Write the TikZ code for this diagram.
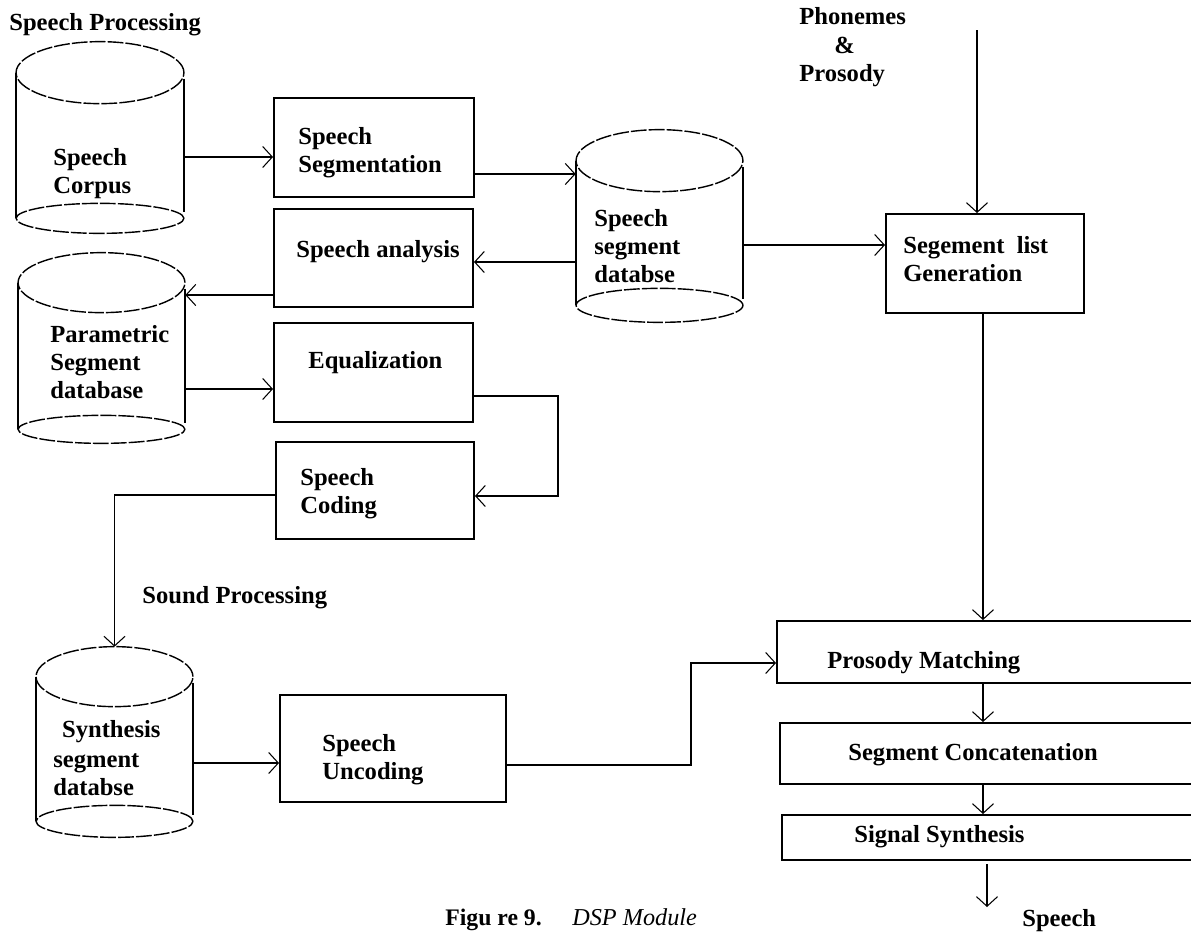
\documentclass[tikz,border=0pt]{standalone}
\usepackage{fontspec}
\setmainfont{Liberation Serif}
\usetikzlibrary{arrows.meta,calc,fit}

\tikzset{
  box/.style={draw, line width=1.1pt, inner sep=0pt},
  rim/.style={line width=0.8pt, dash pattern=on 9pt off 1.2pt},
  side/.style={line width=1pt},
  lbl/.style={inner sep=0pt, anchor=base west, font=\fontsize{14}{16}\selectfont\bfseries},
  arr/.style={line width=0.9pt, -{Straight Barb[length=5.5pt, width=12pt, line width=0.6pt]}},
}
% left-aligned multi-line label whose baseline is the first line
\newcommand\stack[1]{\begin{tabular}[t]{@{}l@{}}#1\end{tabular}}
% database cylinder: name, left, right, top, bottom, top rim radius, bottom rim radius
\newcommand\database[7]{%
  \node[inner sep=0pt, fit={(#2,#4) (#3,#5)}] (#1) {};
  \pgfmathsetmacro\dbrx{(#3-#2)*0.01}%
  \pgfmathsetmacro\dbryt{#6*0.02}%
  \pgfmathsetmacro\dbryb{#7*0.02}%
  \draw[rim] ($(#1.north)+(0,#6)$) ellipse [x radius=\dbrx cm, y radius=\dbryt cm];
  \draw[rim] ($(#1.south)+(0,-#7)$) ellipse [x radius=\dbrx cm, y radius=\dbryb cm];
  \draw[side] ($(#1.north west)+(0,#6)$) -- ($(#1.south west)+(0,-#7)$);
  \draw[side] ($(#1.north east)+(0,#6+6)$) -- ($(#1.south east)+(0,-#7-6)$);
}

\begin{document}
\begin{tikzpicture}[x=0.02cm, y=-0.02cm]
  \fill[white] (0,0) rectangle (1191,933);
  \useasboundingbox (0,0) rectangle (1191,933);
  \clip (0,0) rectangle (1191,933);

  % databases
  \database{corpus}{16}{184}{42}{233}{31}{15}
  \database{segdb}{576}{743}{130}{322}{31}{17}
  \database{param}{18}{185}{253}{443}{30}{14}
  \database{synth}{36}{193}{647}{837}{30}{16}

  % processing boxes
  \node[box, fit={(274,98) (474,197)}] (seg) {};
  \node[box, fit={(274,209) (473,307)}] (ana) {};
  \node[box, fit={(274,323) (473,422)}] (eq) {};
  \node[box, fit={(276,442) (474,539)}] (cod) {};
  \node[box, fit={(280,695) (506,802)}] (unc) {};
  \node[box, fit={(886,214) (1084,313)}] (gen) {};
  \node[box, fit={(777,621) (1210,683)}] (pm) {};
  \node[box, fit={(780,723) (1210,784)}] (cat) {};
  \node[box, fit={(782,815) (1210,860)}] (sig) {};

  % labels
  \node[lbl] (tProc) at (9,31) {Speech Processing};
  \node[lbl] (tCorpus) at (53,165) {\stack{Speech\\Corpus}};
  \node[lbl] (tSeg) at (298,144) {\stack{Speech\\Segmentation}};
  \node[lbl] (tAna) at (296,257) {Speech analysis};
  \node[lbl] (tSegdb) at (594,226) {\stack{Speech\\segment\\databse}};
  \node[lbl] (tParam) at (50,342) {\stack{Parametric\\Segment\\database}};
  \node[lbl] (tEq) at (308,368) {Equalization};
  \node[lbl] (tCod) at (300,485) {\stack{Speech\\Coding}};
  \node[lbl] (tSound) at (142,603) {Sound Processing};
  \node[lbl] (tSyn) at (53,737) {\stack{\hspace*{5pt}Synthesis\\[1.5pt]segment\\databse}};
  \node[lbl] (tUnc) at (322,751) {\stack{Speech\\Uncoding}};
  \node[lbl] (tPh) at (799,25) {\stack{Phonemes\\\hspace*{20pt}\&\\Prosody}};
  \node[lbl] (tGen) at (903,253) {\stack{Segement\ \ list\\Generation}};
  \node[lbl] (tPM) at (827,668) {Prosody Matching};
  \node[lbl] (tCat) at (848,760) {Segment Concatenation};
  \node[lbl] (tSig) at (854,842) {Signal Synthesis};
  \node[lbl] (tOut) at (1022,926) {Speech};
  \node[lbl, font=\fontsize{13.5}{15}\selectfont\bfseries] (tFig) at (445,925) {Figu re 9.};
  \node[lbl, font=\fontsize{13.8}{15}\selectfont\itshape] (tDSP) at (572,925) {DSP Module};

  % connectors
  \draw[arr] (corpus.east |- 0,157) -- (seg.west |- 0,157);
  \draw[arr] (seg.east |- 0,174) -- (segdb.west |- 0,174);
  \draw[arr] (segdb.west |- 0,262) -- (ana.east |- 0,262);
  \draw[arr] (ana.west |- 0,295) -- (param.east |- 0,295);
  \draw[arr] (param.east |- 0,389) -- (eq.west |- 0,389);
  \draw[arr] (eq.east |- 0,396) -- ++(84,0) |- (cod.east |- 0,496);
  \draw[arr] (cod.west |- 0,495) -| (synth.north);
  \draw[arr] (synth.east |- 0,763) -- (unc.west |- 0,763);
  \draw[arr] (unc.east |- 0,765) -- ++(184,0) |- (pm.west |- 0,663);
  \draw[arr] (segdb.east |- 0,245) -- (gen.west |- 0,245);

  \coordinate (phin) at (977,30);
  \draw[arr] (phin) -- (phin |- gen.north);
  \coordinate (spine) at (983,0);
  \draw[arr] (spine |- gen.south) -- (spine |- pm.north);
  \draw[arr] (spine |- pm.south) -- (spine |- cat.north);
  \draw[arr] (spine |- cat.south) -- (spine |- sig.north);
  \coordinate (out) at (987,907);
  \draw[arr] ([yshift=-2pt]out |- sig.south) -- (out);
\end{tikzpicture}
\end{document}
